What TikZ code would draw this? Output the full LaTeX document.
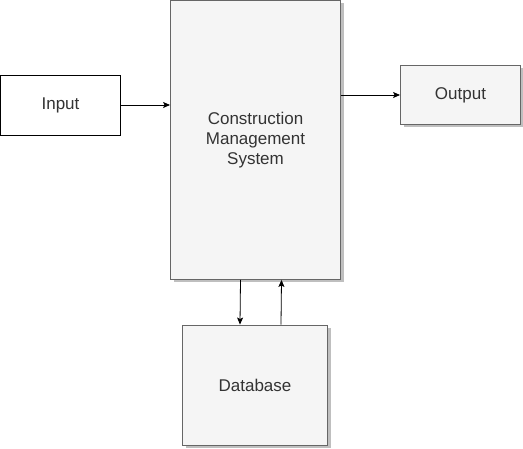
\documentclass[tikz,border=0pt]{standalone}
\usepackage{fontspec}
\setmainfont{Liberation Sans}
\usetikzlibrary{arrows.meta,calc,shadows}
\tikzset{pin/.style={-{Stealth[length=7pt,width=6pt,inset=1.5pt]}, line width=0.8pt},
  blk/.style={draw=black!60, fill=black!4, line width=0.9pt, text=black!80, font=\fontsize{17}{20}\selectfont, align=center,
    drop shadow={shadow xshift=3pt, shadow yshift=-3pt, fill=black!25, opacity=1}},
  plain/.style={draw, fill=white, line width=0.8pt, text=black!80, font=\fontsize{17}{20}\selectfont, align=center}}

\begin{document}
\begin{tikzpicture}[x=1pt, y=-1pt]
  \useasboundingbox (0,0) rectangle (523,449);
  \node[plain, minimum width=120pt, minimum height=60pt] (input) at (60.5,105) {Input};
  \node[blk, minimum width=170pt, minimum height=279pt] (cms) at (255.5,140) {Construction\\Management\\System};
  \node[blk, minimum width=120pt, minimum height=59pt] (output) at (460.5,95) {Output};
  \node[blk, minimum width=145pt, minimum height=120pt] (db) at (255,385) {Database};
  % links
  \draw[pin] (input.east) -- (input.east -| cms.west);
  \draw[pin] (cms.east |- output.west) -- (output.west);
  \draw[pin] ($(cms.south)+(-15,0)$) -- ($(db.north)+(-15,0)$);
  \draw[pin] ($(db.north)+(26,0)$) -- ($(cms.south)+(26,0)$);
\end{tikzpicture}
\end{document}
